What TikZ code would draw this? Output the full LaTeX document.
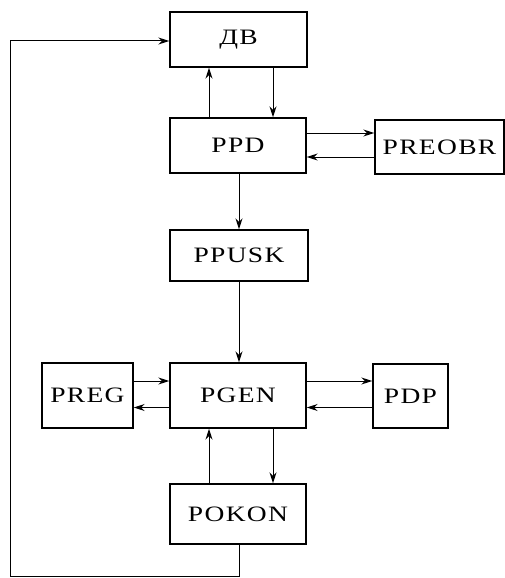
\documentclass[tikz,border=0pt]{standalone}
\usepackage{fontspec}
\newfontfamily\boxfont[FakeStretch=1.25,LetterSpace=6]{Liberation Serif}
\usetikzlibrary{arrows.meta}
\begin{document}
\begin{tikzpicture}[x=1pt,y=-1pt,
  blk/.style={draw,line width=1.4pt,rectangle,inner sep=0pt,font=\boxfont\fontsize{22}{22}\selectfont},
  arr/.style={line width=1pt,-{Stealth[length=11pt,width=7pt]}}]
\useasboundingbox (0,0) rectangle (505,578);
\node[blk,minimum width=137pt,minimum height=55pt] (dv) at (238.5,39.5) {ДВ};
\node[blk,minimum width=136pt,minimum height=55pt] (ppd) at (238,145.5) {PPD};
\node[blk,minimum width=129pt,minimum height=54pt] (preobr) at (439.5,147) {PREOBR};
\node[blk,minimum width=138pt,minimum height=51pt] (ppusk) at (239,255.5) {PPUSK};
\node[blk,minimum width=136pt,minimum height=65pt] (pgen) at (238,395.5) {PGEN};
\node[blk,minimum width=91pt,minimum height=65pt] (preg) at (87.5,395.5) {PREG};
\node[blk,minimum width=75pt,minimum height=64pt] (pdp) at (410.5,396) {PDP};
\node[blk,minimum width=136pt,minimum height=60pt] (pokon) at (238,514) {POKON};
\coordinate (xl) at (209,0);
\coordinate (xr) at (273,0);
\coordinate (xm) at (239,0);
\coordinate (yt1) at (0,133);
\coordinate (yt2) at (0,157);
\coordinate (yg1) at (0,381);
\coordinate (yg2) at (0,407.5);
\coordinate (bl) at (10,576);
\coordinate (tl) at (10,41);
% DV <-> PPD
\draw[arr] (ppd.north -| xl) -- (dv.south -| xl);
\draw[arr] (dv.south -| xr) -- (ppd.north -| xr);
% PPD <-> PREOBR
\draw[arr] (ppd.east |- yt1) -- (preobr.west |- yt1);
\draw[arr] (preobr.west |- yt2) -- (ppd.east |- yt2);
% PPD -> PPUSK -> PGEN
\draw[arr] (ppd.south -| xm) -- (ppusk.north -| xm);
\draw[arr] (ppusk.south -| xm) -- (pgen.north -| xm);
% PREG <-> PGEN
\draw[arr] (preg.east |- yg1) -- (pgen.west |- yg1);
\draw[arr] (pgen.west |- yg2) -- (preg.east |- yg2);
% PGEN <-> PDP
\draw[arr] (pgen.east |- yg1) -- (pdp.west |- yg1);
\draw[arr] (pdp.west |- yg2) -- (pgen.east |- yg2);
% PGEN <-> POKON
\draw[arr] (pokon.north -| xl) -- (pgen.south -| xl);
\draw[arr] (pgen.south -| xr) -- (pokon.north -| xr);
% feedback loop
\draw[arr] (pokon.south -| xm) |- (bl) -- (tl) -- (dv.west |- tl);
\end{tikzpicture}
\end{document}
